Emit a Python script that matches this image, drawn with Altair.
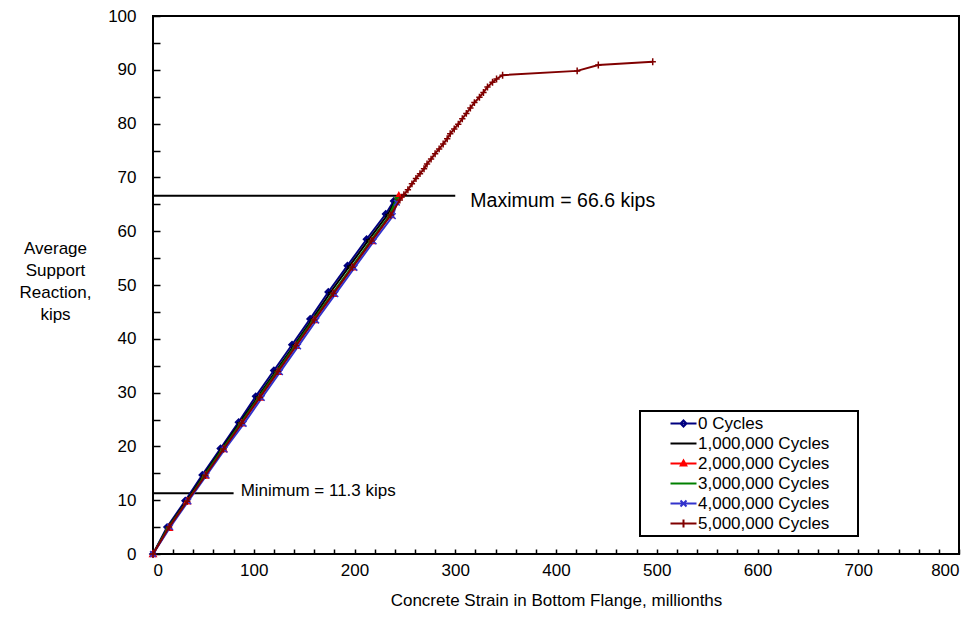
import altair as alt
import pandas as pd

FONT = "Liberation Sans"

series_names = ["0 Cycles", "1,000,000 Cycles", "2,000,000 Cycles",
                "3,000,000 Cycles", "4,000,000 Cycles", "5,000,000 Cycles"]
series_colors = ["#000080", "#000000", "#FF0000", "#008000", "#3333CC", "#800000"]

# data markers (diamond, dash, triangle, dash, x, plus)
marker_paths = [
    "M0,-1L1,0L0,1L-1,0Z",
    "M-0.8,0H0.8",
    "M0,-1L1,0.8L-1,0.8Z",
    "M-0.8,0H0.8",
    "M-0.9,-0.9L0.9,0.9M-0.9,0.9L0.9,-0.9",
    "M-1,0H1M0,-1.1V1.1",
]
# legend symbols: line + marker
legend_paths = [
    "M-2.6,0H2.6M0,-0.6L0.6,0L0,0.6L-0.6,0Z",
    "M-2.6,0H2.6",
    "M-2.6,0H2.6M0,-0.6L0.55,0.4L-0.55,0.4Z",
    "M-2.6,0H2.6",
    "M-2.6,0H2.6M-0.6,-0.6L0.6,0.6M-0.6,0.6L0.6,-0.6",
    "M-2.6,0H2.6M0,-0.8V0.8",
]

strain_0 = [0, 14, 32, 49, 67, 85, 102, 120, 138, 156, 174, 193, 212, 231, 239]
load_0 = [0, 5.0, 9.9, 14.7, 19.6, 24.5, 29.3, 34.1, 38.9, 43.7, 48.7, 53.6, 58.5, 63.2, 65.6]

strain_1 = [0, 15, 33, 50, 68, 86, 104, 122, 140, 158, 176, 195, 214, 233, 241]
load_1 = [0, 5.0, 9.8, 14.6, 19.5, 24.4, 29.2, 34.0, 38.8, 43.6, 48.6, 53.5, 58.4, 63.1, 65.9]

strain_2 = [0, 16, 34, 52, 70, 88, 106, 124, 142, 160, 179, 198, 217, 236, 244]
load_2 = [0, 4.9, 9.8, 14.6, 19.5, 24.3, 29.1, 33.9, 38.7, 43.5, 48.4, 53.3, 58.2, 63.0, 66.6]

strain_3 = [0, 15, 34, 51, 69, 87, 105, 123, 141, 159, 178, 197, 216, 235, 242]
load_3 = [0, 4.9, 9.8, 14.6, 19.5, 24.3, 29.1, 33.9, 38.7, 43.5, 48.4, 53.3, 58.2, 63.0, 66.2]

strain_4 = [0, 17, 35, 53, 71, 90, 108, 126, 144, 162, 181, 200, 219, 238, 242]
load_4 = [0, 5.0, 9.8, 14.6, 19.4, 24.2, 29.0, 33.8, 38.6, 43.4, 48.3, 53.2, 58.1, 62.8, 65.3]

strain_5 = [0, 16, 34, 52, 70, 88, 106, 124, 142, 160, 179, 198, 217, 236,
            245, 249, 253, 257, 261, 265, 269, 272, 276, 280,
            284, 288, 292, 295, 299, 303, 307, 311, 315, 319,
            324, 328, 332, 337, 341, 347, 421, 442, 496]
load_5 = [0, 5.0, 9.8, 14.6, 19.5, 24.3, 29.1, 33.9, 38.7, 43.5, 48.4, 53.3, 58.2, 63.0,
          65.8, 66.8, 67.7, 68.8, 69.8, 70.7, 71.6, 72.5, 73.4, 74.4,
          75.3, 76.2, 77.2, 78.1, 79.0, 79.9, 80.9, 81.9, 82.9, 83.9,
          84.9, 85.8, 86.8, 87.7, 88.3, 89.0, 89.8, 90.9, 91.5]

annot_values = [11.3, 66.6]
annot_line_end = [80, 300]
annot_text_x = [87, 315]
annot_text_y = [11.8, 65.7]
annot_labels = ["Minimum = 11.3 kips", "Maximum = 66.6 kips"]

x_label_values = list(range(0, 801, 100))
x_tick_values = list(range(0, 801, 20))
y_label_values = list(range(0, 101, 10))
y_tick_values = list(range(0, 101, 5))

strains = [strain_0, strain_1, strain_2, strain_3, strain_4, strain_5]
loads = [load_0, load_1, load_2, load_3, load_4, load_5]

rows = []
for name, ss, ll in zip(series_names, strains, loads):
    for k, (s, l) in enumerate(zip(ss, ll)):
        rows.append({"series": name, "strain": s, "load": l, "order": k})
df = pd.DataFrame(rows)

ann_df = pd.DataFrame({
    "y": annot_values, "x0": [0] * len(annot_values), "x1": annot_line_end,
    "tx": annot_text_x, "ty": annot_text_y, "label": annot_labels,
    "idx": list(range(len(annot_values))),
})

W, H = 806, 538

x_scale = alt.Scale(domain=[0, 800], nice=False, zero=False)
y_scale = alt.Scale(domain=[0, 100], nice=False)
color_scale = alt.Scale(domain=series_names, range=series_colors)
legend_shape_scale = alt.Scale(domain=series_names, range=legend_paths)

x_label_axis = alt.Axis(
    values=x_label_values, ticks=False, tickSize=0, domain=False, grid=False,
    labelPadding=8, labelFont=FONT, labelFontSize=17, labelColor="black",
    title="Concrete Strain in Bottom Flange, millionths", titleFont=FONT,
    titleFontSize=17, titleFontWeight="normal", titleColor="black",
    titleY=46, titleBaseline="middle",
)
y_label_axis = alt.Axis(
    values=y_label_values, ticks=False, tickSize=0, domain=False, grid=False,
    labelPadding=17, labelFont=FONT, labelFontSize=17, labelColor="black",
    title=["Average", "Support", "Reaction,", "kips"], titleAngle=0,
    titleAlign="center", titleBaseline="top", titleX=-98, titleY=224,
    titleLineHeight=22, titleFont=FONT, titleFontSize=17,
    titleFontWeight="normal", titleColor="black",
)
x_tick_axis = alt.Axis(
    orient="top", offset=-H, values=x_tick_values, labels=False, domain=False,
    grid=False, ticks=True, tickSize=5, tickWidth=1.5, tickColor="black", title=None,
)
y_tick_axis = alt.Axis(
    orient="right", offset=-W, values=y_tick_values, labels=False, domain=False,
    grid=False, ticks=True, tickSize=7, tickWidth=1.5, tickColor="black", title=None,
)

layers = []

rules = alt.Chart(ann_df).mark_rule(color="black", strokeWidth=2).encode(
    x=alt.X("x0:Q", scale=x_scale, axis=x_label_axis),
    x2="x1:Q",
    y=alt.Y("y:Q", scale=y_scale, axis=y_label_axis),
)
layers.append(rules)

for name, path in zip(series_names, marker_paths):
    base = alt.Chart(df).transform_filter(alt.datum.series == name)
    line = base.mark_line(strokeWidth=2).encode(
        x=alt.X("strain:Q", scale=x_scale, axis=None),
        y=alt.Y("load:Q", scale=y_scale, axis=None),
        stroke=alt.Stroke("series:N", scale=color_scale, legend=None),
        order="order:Q",
    )
    pts = base.mark_point(shape=path, size=40, strokeWidth=1.5, opacity=1).encode(
        x=alt.X("strain:Q", scale=x_scale, axis=None),
        y=alt.Y("load:Q", scale=y_scale, axis=None),
        stroke=alt.Stroke("series:N", scale=color_scale, legend=None),
        fill=alt.Fill("series:N", scale=color_scale, legend=None),
    )
    layers.append(line)
    layers.append(pts)

text_min = alt.Chart(ann_df).transform_filter(alt.datum.idx == 0).mark_text(
    align="left", baseline="middle", font=FONT, fontSize=17, color="black"
).encode(
    x=alt.X("tx:Q", scale=x_scale, axis=x_tick_axis),
    y=alt.Y("ty:Q", scale=y_scale, axis=y_tick_axis),
    text="label:N",
)
text_max = alt.Chart(ann_df).transform_filter(alt.datum.idx == 1).mark_text(
    align="left", baseline="middle", font=FONT, fontSize=19.5, color="black"
).encode(
    x=alt.X("tx:Q", scale=x_scale, axis=None),
    y=alt.Y("ty:Q", scale=y_scale, axis=None),
    text="label:N",
)
layers.append(text_min)
layers.append(text_max)

legend = alt.Legend(
    orient="none", legendX=487, legendY=395, title=None,
    strokeColor="black", padding=4, symbolOffset=31, labelOffset=6,
    rowPadding=2, symbolSize=100, symbolStrokeWidth=2,
    labelFont=FONT, labelFontSize=17, labelColor="black", labelLimit=400,
    labelExpr="datum.label + '\u2800\u2800'",
)
leg_df = pd.DataFrame({"series": series_names})
leg = alt.Chart(leg_df).mark_point(size=0, strokeWidth=2, opacity=1).encode(
    color=alt.Color("series:N", scale=color_scale, legend=legend),
    shape=alt.Shape("series:N", scale=legend_shape_scale, legend=legend),
)
layers.append(leg)

chart = (
    alt.layer(*layers)
    .resolve_scale(color="independent", shape="independent")
    .resolve_axis(x="independent", y="independent")
    .properties(
        width=W, height=H,
        padding={"left": 145, "top": 8, "right": 13, "bottom": 70},
        autosize=alt.AutoSizeParams(type="none"),
        background="white",
    )
    .configure_view(stroke="black", strokeWidth=2)
    .configure_legend(strokeWidth=2)
)

chart.save("out.html", embed_options={"renderer": "svg", "actions": False})
